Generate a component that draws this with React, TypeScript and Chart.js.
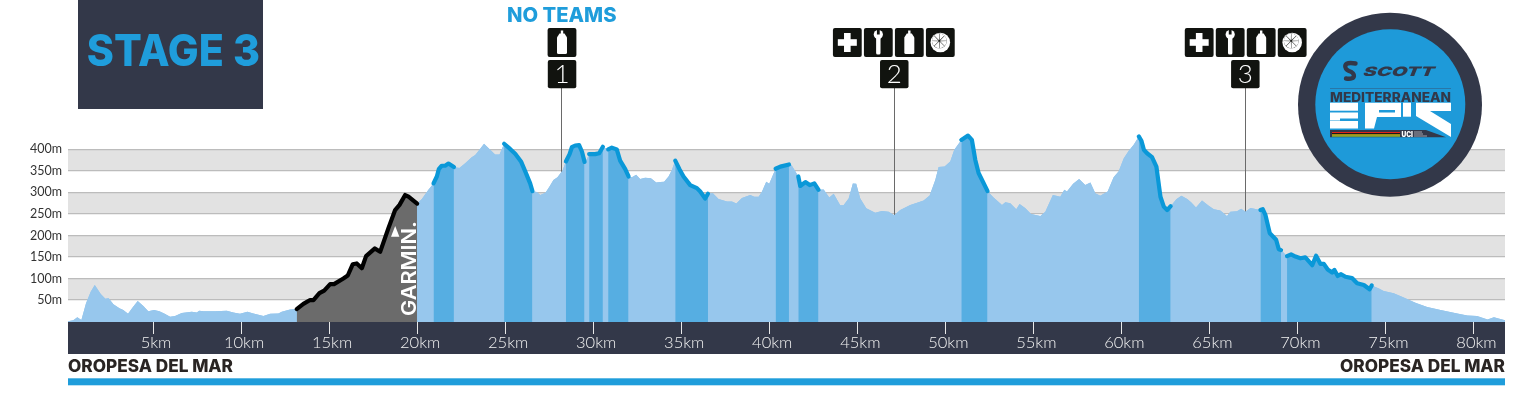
import React, { useEffect, useRef } from "react";
import { Chart, registerables } from "chart.js";

Chart.register(...registerables);

const distanceKm = [
  0.17, 0.47, 0.7, 0.93, 1.19, 1.46, 1.69, 2.03, 2.29, 2.48,
  2.75, 3.09, 3.31, 3.58, 3.85, 4.13, 4.45, 4.73, 5.06, 5.36,
  5.66, 5.97, 6.25, 6.63, 7.2, 7.48, 7.63, 7.86, 8.52, 9.19,
  9.56, 9.94, 10.36, 10.7, 11.27, 11.65, 12.12, 12.31, 12.78, 13.16,
  13.54, 13.92, 14.11, 14.45, 14.72, 15.06, 15.28, 15.81, 16.06, 16.34,
  16.57, 16.86, 17.1, 17.6, 17.9, 18.37, 18.75, 19, 19.32, 19.51,
  20, 20.27, 20.64, 20.93, 21.12, 21.23, 21.4, 21.59, 21.78, 22.09,
  22.4, 22.73, 23.1, 23.3, 23.55, 23.8, 24.15, 24.43, 24.68, 24.94,
  25.28, 25.57, 25.9, 26.14, 26.42, 26.55, 26.8, 26.99, 27.29, 27.52,
  27.74, 27.97, 28.26, 28.45, 28.66, 28.79, 28.98, 29.2, 29.36, 29.51,
  29.64, 29.77, 30.11, 30.34, 30.55, 30.68, 30.85, 31.06, 31.34, 31.53,
  31.82, 32.01, 32.2, 32.44, 32.67, 32.95, 33.28, 33.58, 33.81, 34.03,
  34.28, 34.47, 34.66, 34.9, 35.13, 35.51, 35.89, 36.08, 36.36, 36.52,
  36.8, 37.12, 37.6, 37.88, 38.13, 38.45, 38.92, 39.15, 39.4, 39.59,
  39.83, 40, 40.36, 40.63, 41.12, 41.25, 41.48, 41.65, 41.76, 42.05,
  42.3, 42.56, 42.8, 43.09, 43.41, 43.66, 44.03, 44.22, 44.51, 44.75,
  44.94, 45.17, 45.51, 46.02, 46.4, 46.78, 47.1, 47.44, 48.01, 48.48,
  48.77, 49.11, 49.43, 49.62, 49.96, 50.28, 50.51, 50.91, 51.29, 51.51,
  51.7, 51.89, 52.4, 52.74, 53.22, 53.41, 53.69, 54.03, 54.22, 54.55,
  54.87, 55.4, 55.68, 56.11, 56.53, 56.76, 56.91, 57.26, 57.6, 57.95,
  58.24, 58.52, 58.8, 59.22, 59.56, 59.85, 60.13, 60.42, 60.7, 60.99,
  61.14, 61.28, 61.46, 61.74, 61.99, 62.22, 62.41, 62.6, 62.8, 63.12,
  63.41, 63.74, 63.96, 64.24, 64.58, 64.96, 65.25, 65.62, 66, 66.19,
  66.57, 66.8, 67.05, 67.33, 67.9, 68.03, 68.18, 68.43, 68.79, 68.94,
  69.07, 69.41, 69.64, 69.89, 70.17, 70.45, 70.84, 71.06, 71.31, 71.5,
  71.72, 71.97, 72.1, 72.29, 72.48, 72.73, 73.1, 73.39, 73.77, 74.1,
  74.22, 74.63, 74.9, 75.47, 76.04, 76.7, 77.37, 78.13, 79.08, 79.65,
  80.2, 80.8, 81.16, 81.9,
];

const elevationM = [
  1, 3, 10, 3.5, 42, 69, 85, 64, 53, 54,
  40, 31, 27, 18, 33, 48, 36, 24, 27, 24,
  18, 11, 13, 20, 23, 21, 25, 24, 24, 25,
  21, 18, 23, 19, 13, 18, 19, 23, 28, 29,
  41, 50, 50, 66, 72, 87, 87, 100, 107, 133,
  135, 124, 152, 170, 162, 217, 259, 271, 294, 290,
  274, 285, 306, 321, 337, 354, 362, 362, 367, 359,
  357, 368, 382, 387, 400, 413, 399, 388, 388, 413,
  401, 390, 372, 349, 321, 303, 301, 294, 299, 314,
  329, 335, 351, 372, 389, 405, 409, 410, 395, 371,
  377, 389, 389, 391, 406, 403, 400, 404, 400, 374,
  354, 337, 335, 341, 331, 334, 333, 323, 324, 325,
  337, 352, 374, 354, 337, 317, 310, 302, 286, 297,
  298, 285, 279, 279, 274, 287, 294, 290, 290, 302,
  325, 320, 355, 360, 365, 364, 349, 337, 315, 324,
  317, 321, 306, 307, 288, 297, 270, 270, 286, 321,
  320, 286, 263, 253, 257, 255, 247, 259, 271, 277,
  281, 293, 329, 359, 360, 372, 399, 422, 432, 422,
  376, 345, 303, 288, 271, 277, 275, 261, 273, 263,
  250, 245, 255, 294, 290, 306, 302, 320, 331, 317,
  323, 298, 292, 302, 335, 349, 379, 397, 411, 430,
  420, 399, 391, 382, 360, 290, 267, 259, 268, 284,
  292, 285, 277, 265, 281, 269, 261, 258, 245, 255,
  256, 262, 255, 264, 259, 261, 248, 205, 190, 168,
  166, 152, 156, 151, 147, 149, 131, 153, 134, 134,
  121, 114, 120, 106, 110, 104, 101, 89, 85, 75,
  84, 77, 71, 66, 56, 44, 34, 27, 19, 14,
  13, 5, 10, 2,
];

const climbStartKm = [20.93, 24.94, 28.45, 29.77, 30.85, 34.66, 40.36, 41.65, 50.91, 60.99, 67.9, 69.41];
const climbEndKm = [22.09, 26.55, 29.51, 30.55, 32.01, 36.52, 41.12, 42.8, 52.4, 62.8, 69.07, 74.22];
const garminStartKm = 13.16;
const garminEndKm = 20;

const kmTicks = [5, 10, 15, 20, 25, 30, 35, 40, 45, 50, 55, 60, 65, 70, 75, 80];
const metreTicks = [50, 100, 150, 200, 250, 300, 350, 400];
const bandLowM = [50, 150, 250, 350];
const bandHighM = [100, 200, 300, 400];

const stationKm = [28.2, 47.07, 67.01];
const stationNumbers = ["1", "2", "3"];
const stationServices = [["bottle"], ["plus", "wrench", "bottle", "orange"], ["plus", "wrench", "bottle", "orange"]];

const NAVY = "#333849";
const BLUE = "#1f9ddb";
const FONT = "Lato, sans-serif";
const HEAVY = "Inter, Lato, sans-serif";

function fitText(ctx: any, text: string, x: number, y: number, w: number, font: string, color: string) {
  ctx.save();
  ctx.font = font;
  ctx.fillStyle = color;
  ctx.textAlign = "left";
  ctx.textBaseline = "alphabetic";
  const m = ctx.measureText(text).width;
  ctx.translate(x, y);
  ctx.scale(w / m, 1);
  ctx.fillText(text, 0, 0);
  ctx.restore();
}

function roundBox(ctx: any, x: number, y: number, w: number, h: number) {
  ctx.beginPath();
  ctx.roundRect(x, y, w, h, 2);
  ctx.fillStyle = "#11130f";
  ctx.fill();
}

function drawIcon(ctx: any, kind: string, cx: number, cy: number) {
  ctx.save();
  ctx.fillStyle = "#fff";
  ctx.strokeStyle = "#fff";
  if (kind === "plus") {
    ctx.fillRect(cx - 9.5, cy - 3.3, 19, 6.6);
    ctx.fillRect(cx - 3.3, cy - 9.5, 6.6, 19);
  } else if (kind === "wrench") {
    ctx.beginPath();
    ctx.arc(cx, cy - 8, 4.6, 0, Math.PI * 2);
    ctx.fill();
    ctx.beginPath();
    ctx.roundRect(cx - 2.2, cy - 6, 4.4, 18, 1.6);
    ctx.fill();
    ctx.fillStyle = "#11130f";
    ctx.fillRect(cx - 1.4, cy - 13.5, 2.8, 5.5);
  } else if (kind === "bottle") {
    ctx.beginPath();
    ctx.roundRect(cx - 5, cy - 6, 10, 17.5, 1.5);
    ctx.fill();
    ctx.beginPath();
    ctx.moveTo(cx - 5, cy - 5);
    ctx.lineTo(cx - 2.5, cy - 9);
    ctx.lineTo(cx + 2.5, cy - 9);
    ctx.lineTo(cx + 5, cy - 5);
    ctx.fill();
    ctx.fillRect(cx - 1.2, cy - 12, 2.4, 4);
  } else {
    ctx.beginPath();
    ctx.arc(cx, cy, 9.8, 0, Math.PI * 2);
    ctx.fill();
    ctx.fillStyle = "#11130f";
    ctx.beginPath();
    ctx.arc(cx - 1, cy - 1.6, 7.4, 0, Math.PI * 2);
    ctx.fill();
    ctx.fillStyle = "#fff";
    for (let i = 0; i < 8; i++) {
      const a = (i * Math.PI) / 4;
      ctx.beginPath();
      ctx.moveTo(cx - 1 + Math.cos(a + 0.39) * 0.7, cy - 1.6 + Math.sin(a + 0.39) * 0.7);
      ctx.arc(cx - 1, cy - 1.6, 7.4, a + 0.02, a + 0.76);
      ctx.closePath();
      ctx.fill();
    }
  }
  ctx.restore();
}

function polygon(ctx: any, pts: number[][]) {
  ctx.beginPath();
  pts.forEach((p, i) => (i ? ctx.lineTo(p[0], p[1]) : ctx.moveTo(p[0], p[1])));
  ctx.closePath();
  ctx.fill();
}

function drawLogo(ctx: any) {
  ctx.save();
  ctx.fillStyle = NAVY;
  ctx.beginPath();
  ctx.arc(1390, 104.7, 92, 0, Math.PI * 2);
  ctx.fill();
  ctx.fillStyle = "#1e9ad9";
  ctx.beginPath();
  ctx.arc(1390.3, 104.3, 75, 0, Math.PI * 2);
  ctx.fill();

  // SCOTT mark
  ctx.strokeStyle = NAVY;
  ctx.lineWidth = 4.4;
  ctx.lineCap = "round";
  ctx.beginPath();
  ctx.moveTo(1355.5, 63.5);
  ctx.bezierCurveTo(1342, 61, 1344, 69, 1349, 71);
  ctx.bezierCurveTo(1355, 73, 1357, 80, 1346, 78.5);
  ctx.stroke();
  ctx.save();
  ctx.transform(1, 0, -0.4, 1, 1362, 76);
  fitText(ctx, "SCOTT", 0, 0, 71, `900 13px ${HEAVY}`, NAVY);
  ctx.restore();

  ctx.fillStyle = "#2b6f9c";
  ctx.fillRect(1330, 88, 121, 0.8);
  fitText(ctx, "MEDITERRANEAN", 1330, 101.7, 121, `800 13px ${HEAVY}`, NAVY);

  // EPIC lettering
  ctx.fillStyle = "#fff";
  ctx.fillRect(1330, 102.7, 28, 8);
  ctx.fillRect(1340, 112.5, 18, 6);
  ctx.fillRect(1330, 112.5, 10, 8);
  ctx.fillRect(1330, 121, 28, 7.5);
  polygon(ctx, [[1365, 102.7], [1401, 102.7], [1401, 117], [1377, 117], [1374, 128.5], [1365, 128.5]]);
  ctx.fillStyle = "#1e9ad9";
  ctx.fillRect(1379, 110, 16, 2.5);
  ctx.fillStyle = "#fff";
  ctx.fillRect(1403, 102.7, 8, 14);
  polygon(ctx, [[1416, 102.7], [1451, 102.7], [1451, 111], [1430, 111], [1451, 124], [1451, 137], [1416, 116]]);

  // Rainbow bar
  ctx.fillStyle = NAVY;
  polygon(ctx, [[1330, 130], [1426, 130], [1446, 137.3], [1330, 137.3]]);
  const stripes = ["#e2231a", "#111", "#f6d000", "#7fb23a"];
  stripes.forEach((c, i) => {
    ctx.fillStyle = c;
    ctx.fillRect(1332, 132 + i * 1.2, 68, 1.2);
  });
  fitText(ctx, "UCI", 1401.5, 136.8, 11.5, `900 7px ${HEAVY}`, "#fff");
  ctx.fillStyle = "rgba(255,255,255,0.55)";
  ctx.fillRect(1414, 131.5, 8, 1);
  ctx.fillRect(1414, 133.5, 9, 1);
  ctx.fillRect(1414, 135.5, 13, 1);
  ctx.restore();
}

const decorPlugin = {
  id: "decor",
  beforeDraw(chart: any) {
    const { ctx, chartArea, scales } = chart;
    ctx.save();
    ctx.fillStyle = "#e2e2e2";
    bandLowM.forEach((low, i) => {
      const top = scales.y.getPixelForValue(bandHighM[i]);
      const bottom = scales.y.getPixelForValue(low);
      ctx.fillRect(chartArea.left, top, chartArea.right - chartArea.left, bottom - top);
    });
    ctx.fillStyle = NAVY;
    ctx.fillRect(chartArea.left, chartArea.bottom, chartArea.right - chartArea.left, 32);
    ctx.restore();
  },
  beforeDatasetsDraw(chart: any) {
    const { ctx, scales } = chart;
    ctx.save();
    ctx.strokeStyle = "#6a6a6a";
    ctx.lineWidth = 1;
    stationKm.forEach((km) => {
      const x = Math.round(scales.x.getPixelForValue(km)) + 0.5;
      ctx.beginPath();
      ctx.moveTo(x, 88);
      ctx.lineTo(x, 290);
      ctx.stroke();
    });
    ctx.restore();
  },
  afterDraw(chart: any) {
    const { ctx, chartArea, scales } = chart;
    ctx.save();

    // Stage title
    ctx.fillStyle = NAVY;
    ctx.fillRect(78, 0, 185, 109);
    fitText(ctx, "STAGE 3", 86.7, 66, 173.3, `800 44px ${HEAVY}`, BLUE);

    fitText(ctx, "NO TEAMS", 507, 22, 109.5, `800 20px ${HEAVY}`, BLUE);

    // Stations
    stationKm.forEach((km, s) => {
      const cx = scales.x.getPixelForValue(km) + 0.5;
      roundBox(ctx, cx - 14.2, 60, 28.5, 28.3);
      ctx.font = `300 26px ${FONT}`;
      ctx.fillStyle = "#fff";
      ctx.textAlign = "center";
      ctx.textBaseline = "alphabetic";
      ctx.fillText(stationNumbers[s], cx, 83);
      const services = stationServices[s];
      const pitch = 31;
      const anchor = services.length === 1 ? cx : cx + (s === 1 ? -0.4 : 0.4);
      services.forEach((kind, i) => {
        const ix = anchor + (i - (services.length - 1) / 2) * pitch;
        roundBox(ctx, ix - 14.4, 28, 28.8, 29);
        drawIcon(ctx, kind, ix, 42.5);
      });
    });

    // Garmin sponsor mark
    ctx.fillStyle = "#fff";
    polygon(ctx, [[395.2, 226], [399.4, 236.7], [391, 236.7]]);
    ctx.save();
    ctx.translate(415.5, 316);
    ctx.rotate(-Math.PI / 2);
    fitText(ctx, "GARMIN.", 0, 0, 95, `600 20px ${HEAVY}`, "#fff");
    ctx.restore();

    // Footer
    fitText(ctx, "OROPESA DEL MAR", chartArea.left, 371.7, 165, `800 17px ${HEAVY}`, "#2a2523");
    fitText(ctx, "OROPESA DEL MAR", chartArea.right - 165, 371.7, 165, `800 17px ${HEAVY}`, "#2a2523");
    ctx.fillStyle = BLUE;
    ctx.fillRect(chartArea.left, 378.3, chartArea.right - chartArea.left, 7);

    drawLogo(ctx);
    ctx.restore();
  },
};

const inClimb = (km: number) => climbStartKm.some((start, i) => km >= start && km <= climbEndKm[i]);
const inGarmin = (km: number) => km >= garminStartKm && km <= garminEndKm;
const midKm = (c: any) => (c.p0.parsed.x + c.p1.parsed.x) / 2;
const profilePoints = () => distanceKm.map((x, i) => ({ x, y: elevationM[i] }));

export default function App() {
  const ref = useRef<HTMLCanvasElement | null>(null);

  useEffect(() => {
    if (!ref.current) return;
    const chart = new Chart(ref.current, {
      type: "line",
      data: {
        datasets: [
          {
            label: "Elevation sections",
            order: 1,
            data: profilePoints(),
            parsing: false,
            fill: "start",
            tension: 0,
            pointRadius: 0,
            backgroundColor: "#97c7ed",
            borderColor: "rgba(0,0,0,0)",
            borderWidth: 4.2,
            borderCapStyle: "round",
            borderJoinStyle: "round",
            segment: {
              borderWidth: 4.2,
              backgroundColor: (c: any) => {
                const km = midKm(c);
                if (inGarmin(km)) return "#6b6b6b";
                return inClimb(km) ? "#56aee2" : "#97c7ed";
              },
              borderColor: (c: any) => {
                const km = midKm(c);
                if (inGarmin(km)) return "#000000";
                return inClimb(km) ? "#0a98d8" : "rgba(0,0,0,0)";
              },
            },
          } as any,
          {
            label: "Elevation",
            order: 2,
            data: profilePoints(),
            parsing: false,
            fill: "start",
            tension: 0,
            pointRadius: 0,
            borderWidth: 0,
            backgroundColor: "#97c7ed",
          } as any,
        ],
      },
      options: {
        animation: false,
        responsive: false,
        devicePixelRatio: 1,
        layout: { padding: { left: 0, right: 31, top: 0, bottom: 0 } },
        plugins: { legend: { display: false }, tooltip: { enabled: false }, title: { display: false } },
        events: [],
        scales: {
          x: {
            type: "linear",
            min: 0.17,
            max: 81.79,
            afterBuildTicks: (scale: any) => {
              scale.ticks = kmTicks.map((value) => ({ value }));
            },
            afterFit: (scale: any) => {
              scale.height = 92;
              scale.paddingLeft = 0;
              scale.paddingRight = 0;
            },
            border: { display: false },
            grid: { drawOnChartArea: false, drawTicks: true, tickLength: 12, tickColor: "#e8e8e8", tickWidth: 1 },
            ticks: {
              autoSkip: false,
              maxRotation: 0,
              padding: -1,
              labelOffset: 3,
              color: "#f2f2f2",
              font: { family: "Lato", size: 16.5, weight: "300" },
              callback: (v: any) => `${v}km`,
            },
          },
          y: {
            type: "linear",
            min: -1,
            max: 747,
            afterBuildTicks: (scale: any) => {
              scale.ticks = metreTicks.map((value) => ({ value }));
            },
            afterFit: (scale: any) => {
              scale.width = 68;
              scale.paddingTop = 0;
              scale.paddingBottom = 0;
            },
            border: { display: false },
            grid: { color: "#bcbcbc", lineWidth: 1.2, drawTicks: false },
            ticks: {
              padding: 6,
              color: "#333333",
              font: { family: "Lato", size: 12.5, weight: "400" },
              callback: (v: any) => `${v}m`,
            },
          },
        },
      } as any,
      plugins: [decorPlugin as any],
    });
    return () => chart.destroy();
  }, []);

  return (
    <div style={{ position: "absolute", left: 0, top: 0, width: 1536, height: 414 }}>
      <canvas ref={ref} width={1536} height={414} style={{ display: "block", width: 1536, height: 414 }} />
    </div>
  );
}
